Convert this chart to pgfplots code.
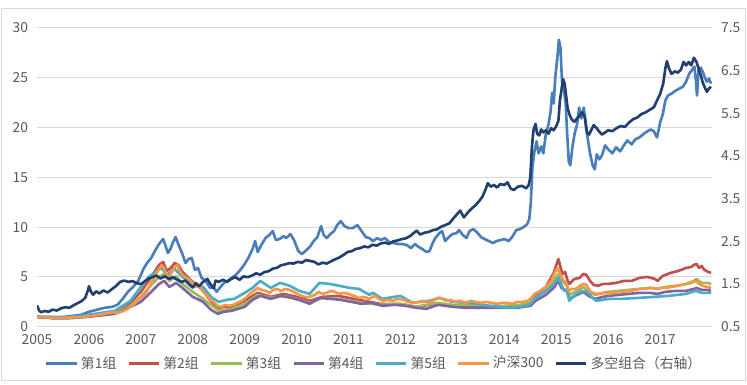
\documentclass[border=0pt]{standalone}
\usepackage{pgfplots}
\pgfplotsset{compat=1.18}
\usepackage{fontspec}
\setmainfont{Noto Sans CJK SC}
\definecolor{cB}{HTML}{4A7EBB}
\definecolor{cR}{HTML}{C0504D}
\definecolor{cG}{HTML}{9BBB59}
\definecolor{cP}{HTML}{8064A2}
\definecolor{cT}{HTML}{4BACC6}
\definecolor{cO}{HTML}{F79646}
\definecolor{cN}{HTML}{213F6F}
\definecolor{gridc}{HTML}{D9D9D9}
\definecolor{txt}{HTML}{595959}
\begin{document}
\begin{tikzpicture}
\path[use as bounding box] (0,0) rectangle (540pt,277.6pt);
\draw[gridc,line width=0.7pt] (0.8pt,2.9pt) rectangle (538.8pt,271.8pt);
\begin{axis}[
  at={(26.75pt,41.4pt)}, anchor=south west,
  width=488pt, height=216.1pt, scale only axis,
  xmin=2005, xmax=2018, ymin=0, ymax=30,
  xtick={2005,...,2017},
  xticklabels={2005,2006,2007,2008,2009,2010,2011,2012,2013,2014,2015,2016,2017},
  ytick={0,5,...,30},
  yticklabels={0,5,10,15,20,25,30},
  ymajorgrids, grid style={gridc,line width=0.8pt},
  axis line style={draw=none}, major tick length=0pt,
  tick label style={font=\fontsize{10}{12}\selectfont, text=txt},
  yticklabel style={xshift=-3pt},
  xticklabel style={yshift=-2pt},
  legend columns=7,
  legend style={at={(0.5,-0.122)}, anchor=center, draw=none, fill=none,
    font=\fontsize{10}{12}\selectfont, text=txt,
    /tikz/every even column/.append style={column sep=6pt}},
  legend image code/.code={\draw[#1,line width=2pt] (0pt,0pt) -- (22pt,0pt);},
  every axis plot/.append style={line width=1.9pt, line join=round, no markers},
]
\addplot[cB] table {
2005.00 1.0
2005.10 0.95
2005.25 1.0
2005.40 0.95
2005.55 1.0
2005.70 1.1
2005.85 1.2
2006.00 1.5
2006.15 1.7
2006.30 1.9
2006.45 2.0
2006.55 2.2
2006.65 2.8
2006.75 3.5
2006.85 4.0
2006.95 4.6
2007.05 5.8
2007.12 6.4
2007.20 6.9
2007.27 7.6
2007.35 8.3
2007.43 8.8
2007.47 8.2
2007.52 7.4
2007.57 7.8
2007.62 8.5
2007.67 9.0
2007.72 8.3
2007.80 7.3
2007.86 6.4
2007.92 6.8
2007.98 6.9
2008.04 5.7
2008.10 5.9
2008.17 4.9
2008.25 4.6
2008.33 3.9
2008.40 4.0
2008.46 3.5
2008.52 3.9
2008.60 4.4
2008.67 4.6
2008.75 4.9
2008.85 5.3
2008.93 5.8
2009.00 6.3
2009.08 7.0
2009.15 7.8
2009.20 8.6
2009.25 7.5
2009.32 8.2
2009.40 8.9
2009.47 9.2
2009.54 9.6
2009.60 8.7
2009.67 8.8
2009.75 9.1
2009.80 8.9
2009.88 9.3
2009.95 8.7
2010.03 7.6
2010.10 7.3
2010.17 7.6
2010.25 8.0
2010.33 8.6
2010.40 9.0
2010.47 10.1
2010.52 9.2
2010.58 8.9
2010.65 9.3
2010.72 9.6
2010.78 10.2
2010.85 10.6
2010.92 10.1
2011.00 9.9
2011.08 9.9
2011.17 10.2
2011.25 9.6
2011.33 9.0
2011.40 8.9
2011.47 8.6
2011.55 8.9
2011.62 8.7
2011.70 8.9
2011.78 8.5
2011.87 8.4
2011.95 8.3
2012.04 8.3
2012.12 8.2
2012.20 7.9
2012.28 8.3
2012.35 8.0
2012.42 7.8
2012.50 7.5
2012.56 7.6
2012.62 8.4
2012.67 8.9
2012.75 9.4
2012.80 9.6
2012.86 8.6
2012.93 9.0
2013.00 9.3
2013.08 9.4
2013.13 9.7
2013.20 9.2
2013.27 8.9
2013.33 9.6
2013.40 9.8
2013.47 9.5
2013.55 9.0
2013.62 8.8
2013.70 8.6
2013.78 8.4
2013.85 8.6
2013.93 8.7
2014.00 8.8
2014.08 8.6
2014.15 9.0
2014.23 9.7
2014.30 9.8
2014.37 10.0
2014.44 10.3
2014.48 10.8
2014.51 12.5
2014.54 16.0
2014.58 17.6
2014.62 18.6
2014.66 17.4
2014.71 18.1
2014.75 17.4
2014.80 19.4
2014.85 20.3
2014.89 21.6
2014.92 23.5
2014.95 22.4
2014.98 25.0
2015.02 27.0
2015.05 28.8
2015.08 28.0
2015.11 24.6
2015.14 23.9
2015.18 22.5
2015.21 19.3
2015.24 16.6
2015.27 16.2
2015.31 18.0
2015.35 19.3
2015.40 20.3
2015.44 22.0
2015.48 20.9
2015.53 22.0
2015.57 20.2
2015.61 18.7
2015.65 17.4
2015.70 16.2
2015.74 15.8
2015.78 17.3
2015.83 16.8
2015.88 17.2
2015.94 18.2
2016.00 17.8
2016.08 17.4
2016.15 18.0
2016.23 17.6
2016.30 18.2
2016.37 18.7
2016.45 18.3
2016.52 18.8
2016.60 19.0
2016.67 19.3
2016.75 19.6
2016.82 19.8
2016.88 19.6
2016.94 19.0
2017.00 20.5
2017.05 21.3
2017.10 22.7
2017.15 23.2
2017.22 23.4
2017.30 23.7
2017.37 23.9
2017.44 24.1
2017.50 24.6
2017.56 25.4
2017.62 25.8
2017.66 26.1
2017.69 24.6
2017.71 23.2
2017.74 25.8
2017.78 26.0
2017.82 25.6
2017.86 25.0
2017.90 24.6
2017.94 24.9
2017.98 24.4
};
\addlegendentry{第1组}
\addplot[cR] table {
2005.00 1.0
2005.30 0.92
2005.60 0.93
2006.00 1.1
2006.50 1.5
2006.80 2.4
2007.00 3.5
2007.15 4.6
2007.35 6.2
2007.43 6.5
2007.50 5.6
2007.58 5.9
2007.65 6.4
2007.72 6.2
2007.80 5.5
2007.90 5.0
2008.00 4.5
2008.10 4.1
2008.20 3.6
2008.30 2.9
2008.40 2.3
2008.50 1.9
2008.62 2.0
2008.75 2.0
2009.00 2.6
2009.25 3.4
2009.50 3.0
2009.75 3.3
2010.00 3.0
2010.25 2.6
2010.50 3.0
2010.80 3.1
2011.00 2.9
2011.30 2.6
2011.60 2.3
2012.00 2.3
2012.30 2.0
2012.70 2.3
2013.00 2.1
2013.30 2.1
2013.50 1.9
2013.75 2.0
2014.00 2.0
2014.30 2.1
2014.50 2.4
2014.60 3.0
2014.80 4.0
2014.95 5.4
2015.04 6.8
2015.08 6.0
2015.12 5.3
2015.17 5.5
2015.22 4.6
2015.25 4.3
2015.35 4.8
2015.45 4.9
2015.52 5.3
2015.58 5.2
2015.65 4.6
2015.72 4.2
2015.80 4.1
2015.90 4.3
2016.00 4.3
2016.15 4.4
2016.30 4.6
2016.45 4.6
2016.60 4.9
2016.75 5.0
2016.90 4.8
2016.95 4.6
2017.05 5.1
2017.20 5.4
2017.35 5.6
2017.50 5.9
2017.60 6.0
2017.65 6.2
2017.70 6.3
2017.75 5.9
2017.80 6.1
2017.85 5.7
2017.93 5.5
2017.98 5.4
};
\addlegendentry{第2组}
\addplot[cG] table {
2005.00 1.0
2005.30 0.9
2005.60 0.9
2006.00 1.05
2006.50 1.4
2006.80 2.1
2007.00 3.0
2007.15 3.9
2007.35 5.0
2007.45 5.3
2007.55 4.6
2007.68 5.1
2007.80 4.3
2008.00 3.5
2008.20 2.8
2008.40 2.0
2008.50 1.6
2008.75 1.8
2009.00 2.3
2009.25 3.2
2009.50 2.9
2009.75 3.1
2010.00 2.8
2010.25 2.4
2010.50 2.9
2010.80 2.8
2011.00 2.6
2011.30 2.4
2011.60 2.2
2012.00 2.3
2012.30 2.0
2012.70 2.4
2013.00 2.2
2013.30 2.2
2013.60 2.1
2014.00 2.1
2014.30 2.2
2014.50 2.4
2014.60 2.9
2014.80 3.7
2014.95 4.6
2015.04 5.3
2015.10 4.6
2015.20 4.2
2015.25 3.2
2015.40 3.6
2015.52 4.0
2015.65 3.4
2015.75 3.2
2015.90 3.4
2016.00 3.5
2016.20 3.6
2016.40 3.7
2016.60 3.8
2016.80 3.9
2016.95 3.8
2017.10 4.0
2017.30 4.1
2017.50 4.3
2017.65 4.6
2017.70 4.8
2017.80 4.4
2017.90 4.4
2017.98 4.3
};
\addlegendentry{第3组}
\addplot[cP] table {
2005.00 1.0
2005.30 0.85
2005.60 0.85
2006.00 1.0
2006.50 1.3
2006.80 2.0
2007.00 2.5
2007.20 3.5
2007.35 4.3
2007.45 4.6
2007.55 4.0
2007.68 4.4
2007.80 3.9
2008.00 3.0
2008.20 2.5
2008.35 1.7
2008.48 1.3
2008.60 1.5
2008.75 1.6
2009.00 2.0
2009.15 2.7
2009.30 3.1
2009.50 2.8
2009.70 3.1
2009.90 2.9
2010.10 2.6
2010.25 2.3
2010.45 2.9
2010.65 2.8
2010.85 2.7
2011.05 2.5
2011.25 2.3
2011.45 2.4
2011.65 2.1
2011.90 2.2
2012.10 2.1
2012.30 1.9
2012.50 1.8
2012.72 2.2
2013.00 2.0
2013.25 1.9
2013.50 1.9
2013.75 1.9
2014.00 1.9
2014.25 1.9
2014.50 2.1
2014.60 2.6
2014.80 3.2
2014.95 3.9
2015.04 4.6
2015.10 3.9
2015.20 3.6
2015.25 2.8
2015.40 3.2
2015.52 3.5
2015.65 3.0
2015.75 2.8
2015.90 3.0
2016.00 3.1
2016.20 3.2
2016.40 3.3
2016.60 3.4
2016.80 3.4
2016.95 3.3
2017.10 3.5
2017.30 3.6
2017.50 3.6
2017.65 3.8
2017.70 3.9
2017.80 3.7
2017.90 3.7
2017.98 3.6
};
\addlegendentry{第4组}
\addplot[cT] table {
2005.00 1.0
2005.30 0.95
2005.60 0.95
2006.00 1.2
2006.50 1.6
2006.80 2.6
2007.00 4.0
2007.15 5.0
2007.30 5.6
2007.40 5.9
2007.50 5.2
2007.65 5.8
2007.80 5.0
2008.00 4.2
2008.20 4.0
2008.35 3.0
2008.50 2.5
2008.65 2.7
2008.80 2.8
2009.00 3.4
2009.15 3.9
2009.30 4.6
2009.50 3.9
2009.68 4.4
2009.87 4.1
2010.05 3.6
2010.25 3.3
2010.44 4.4
2010.63 4.3
2010.83 4.1
2011.02 3.9
2011.20 3.8
2011.30 3.5
2011.40 3.2
2011.47 3.4
2011.65 2.8
2012.00 3.1
2012.23 2.4
2012.56 2.6
2012.75 2.9
2013.00 2.5
2013.27 2.4
2013.50 2.3
2013.71 2.1
2014.10 1.9
2014.30 2.0
2014.48 2.2
2014.62 3.0
2014.81 3.6
2014.96 4.3
2015.04 4.9
2015.10 4.2
2015.15 3.6
2015.21 3.7
2015.25 2.6
2015.38 3.3
2015.50 3.6
2015.60 3.5
2015.68 3.0
2015.77 2.6
2015.90 2.7
2016.02 2.8
2016.27 2.8
2016.60 2.9
2016.90 3.0
2017.17 3.1
2017.50 3.3
2017.69 3.6
2017.80 3.4
2017.98 3.4
};
\addlegendentry{第5组}
\addplot[cO] table {
2005.00 1.0
2005.15 0.95
2005.30 0.90
2005.45 0.88
2005.60 0.92
2005.75 0.95
2005.90 0.98
2006.00 1.05
2006.15 1.15
2006.30 1.3
2006.45 1.45
2006.55 1.4
2006.65 1.55
2006.75 1.8
2006.85 2.2
2006.95 2.7
2007.05 3.1
2007.12 3.6
2007.20 4.4
2007.28 5.2
2007.35 5.8
2007.40 6.2
2007.45 5.9
2007.50 5.1
2007.55 5.0
2007.60 5.5
2007.65 6.0
2007.70 6.2
2007.75 5.6
2007.80 5.2
2007.86 5.0
2007.92 4.8
2007.98 4.5
2008.05 4.0
2008.12 4.2
2008.20 3.5
2008.28 3.1
2008.35 2.7
2008.42 2.4
2008.48 2.1
2008.55 2.0
2008.62 2.2
2008.70 2.1
2008.78 2.2
2008.86 2.4
2008.94 2.6
2009.02 2.9
2009.10 3.3
2009.18 3.6
2009.25 3.9
2009.32 3.7
2009.40 3.6
2009.48 3.4
2009.55 3.7
2009.62 3.8
2009.70 3.6
2009.78 3.8
2009.86 3.7
2009.95 3.5
2010.05 3.2
2010.15 3.0
2010.25 3.0
2010.35 3.2
2010.42 3.5
2010.50 3.3
2010.58 3.4
2010.66 3.6
2010.74 3.5
2010.82 3.3
2010.90 3.4
2011.00 3.3
2011.10 3.1
2011.20 2.9
2011.30 3.0
2011.40 2.8
2011.50 3.1
2011.58 2.8
2011.66 2.6
2011.75 2.7
2011.85 2.6
2011.95 2.8
2012.05 2.7
2012.15 2.5
2012.25 2.4
2012.35 2.5
2012.45 2.6
2012.55 2.4
2012.65 2.7
2012.72 2.9
2012.80 2.8
2012.88 2.6
2012.96 2.7
2013.05 2.5
2013.15 2.6
2013.25 2.4
2013.35 2.6
2013.45 2.5
2013.55 2.4
2013.65 2.5
2013.75 2.4
2013.85 2.3
2013.95 2.4
2014.05 2.4
2014.15 2.3
2014.25 2.5
2014.35 2.5
2014.45 2.6
2014.52 2.9
2014.58 3.3
2014.66 3.5
2014.74 3.8
2014.82 4.1
2014.90 4.6
2014.96 5.3
2015.02 5.9
2015.06 5.5
2015.10 5.0
2015.14 4.6
2015.19 4.4
2015.24 3.6
2015.30 3.8
2015.38 3.8
2015.45 4.1
2015.52 4.3
2015.58 4.2
2015.64 3.6
2015.70 3.4
2015.77 3.3
2015.85 3.3
2015.94 3.4
2016.02 3.3
2016.12 3.4
2016.22 3.5
2016.32 3.5
2016.42 3.6
2016.52 3.7
2016.62 3.8
2016.72 3.8
2016.82 3.9
2016.92 3.8
2017.02 3.9
2017.12 3.9
2017.22 4.0
2017.32 4.1
2017.42 4.2
2017.52 4.3
2017.60 4.4
2017.68 4.6
2017.75 4.3
2017.82 4.1
2017.90 4.0
2017.98 3.9
};
\addlegendentry{沪深300}
\addlegendimage{cN,line width=2pt}
\addlegendentry{多空组合（右轴）}
\end{axis}
\begin{axis}[
  at={(26.75pt,41.4pt)}, anchor=south west,
  width=488pt, height=216.1pt, scale only axis,
  xmin=2005, xmax=2018, ymin=0.5, ymax=7.5,
  axis x line=none, axis y line*=right,
  ytick={0.5,1.5,...,7.5},
  yticklabels={0.5,1.5,2.5,3.5,4.5,5.5,6.5,7.5},
  axis line style={draw=none}, major tick length=0pt,
  tick label style={font=\fontsize{10}{12}\selectfont, text=txt},
  yticklabel style={xshift=3pt},
  every axis plot/.append style={line width=1.9pt, line join=round, no markers},
]
\addplot[cN] table {
2005.00 1.00
2005.04 0.88
2005.08 0.84
2005.15 0.87
2005.22 0.85
2005.30 0.90
2005.38 0.88
2005.46 0.93
2005.55 0.96
2005.62 0.94
2005.70 1.00
2005.78 1.05
2005.86 1.10
2005.93 1.18
2005.98 1.35
2006.00 1.45
2006.04 1.32
2006.08 1.25
2006.14 1.33
2006.20 1.28
2006.28 1.35
2006.36 1.30
2006.44 1.38
2006.52 1.45
2006.60 1.55
2006.68 1.58
2006.76 1.55
2006.84 1.57
2006.92 1.52
2007.00 1.50
2007.06 1.55
2007.14 1.62
2007.22 1.66
2007.30 1.70
2007.38 1.63
2007.46 1.68
2007.54 1.62
2007.62 1.66
2007.70 1.60
2007.78 1.55
2007.86 1.58
2007.94 1.48
2008.00 1.42
2008.06 1.52
2008.12 1.45
2008.20 1.55
2008.28 1.62
2008.34 1.50
2008.40 1.40
2008.44 1.58
2008.50 1.55
2008.58 1.60
2008.66 1.55
2008.74 1.62
2008.82 1.66
2008.90 1.60
2008.98 1.68
2009.06 1.66
2009.14 1.70
2009.22 1.75
2009.30 1.72
2009.38 1.78
2009.46 1.80
2009.54 1.86
2009.62 1.88
2009.70 1.94
2009.78 1.96
2009.86 1.99
2009.94 1.98
2010.02 2.02
2010.10 2.00
2010.18 2.06
2010.26 2.04
2010.34 2.02
2010.42 1.96
2010.50 2.00
2010.58 1.98
2010.66 2.03
2010.74 2.08
2010.82 2.12
2010.90 2.18
2010.98 2.25
2011.06 2.27
2011.14 2.32
2011.22 2.34
2011.30 2.38
2011.38 2.36
2011.46 2.42
2011.54 2.40
2011.62 2.45
2011.70 2.47
2011.78 2.44
2011.86 2.50
2011.94 2.52
2012.02 2.55
2012.10 2.57
2012.18 2.62
2012.26 2.70
2012.31 2.75
2012.38 2.66
2012.46 2.70
2012.54 2.72
2012.62 2.76
2012.70 2.78
2012.78 2.84
2012.86 2.88
2012.94 2.92
2013.02 3.04
2013.10 3.15
2013.15 3.22
2013.22 3.06
2013.30 3.18
2013.38 3.28
2013.45 3.35
2013.52 3.45
2013.58 3.55
2013.64 3.72
2013.68 3.86
2013.74 3.78
2013.80 3.82
2013.86 3.76
2013.92 3.84
2014.00 3.82
2014.06 3.88
2014.12 3.74
2014.18 3.70
2014.26 3.78
2014.34 3.80
2014.42 3.74
2014.47 3.82
2014.50 4.00
2014.53 4.70
2014.56 5.10
2014.60 5.25
2014.63 5.02
2014.67 4.98
2014.71 5.12
2014.75 5.05
2014.80 5.10
2014.85 5.02
2014.90 5.15
2014.95 5.10
2015.00 5.20
2015.04 5.32
2015.07 5.80
2015.10 6.05
2015.13 6.30
2015.16 6.20
2015.19 5.90
2015.22 5.60
2015.26 5.45
2015.30 5.35
2015.35 5.30
2015.40 5.38
2015.45 5.45
2015.50 5.52
2015.55 5.40
2015.59 5.05
2015.63 5.00
2015.68 5.12
2015.72 5.22
2015.77 5.16
2015.82 5.08
2015.88 5.00
2015.94 5.05
2016.00 5.10
2016.08 5.08
2016.16 5.15
2016.24 5.20
2016.32 5.18
2016.40 5.28
2016.48 5.36
2016.56 5.40
2016.64 5.48
2016.72 5.52
2016.80 5.58
2016.88 5.64
2016.94 5.80
2017.00 5.95
2017.06 6.20
2017.10 6.55
2017.13 6.72
2017.17 6.55
2017.22 6.42
2017.28 6.48
2017.34 6.45
2017.40 6.52
2017.45 6.70
2017.50 6.62
2017.55 6.70
2017.60 6.62
2017.65 6.80
2017.70 6.70
2017.74 6.55
2017.78 6.40
2017.82 6.22
2017.86 6.10
2017.90 6.00
2017.94 6.08
2017.98 6.12
};
\end{axis}
\end{tikzpicture}
\end{document}
